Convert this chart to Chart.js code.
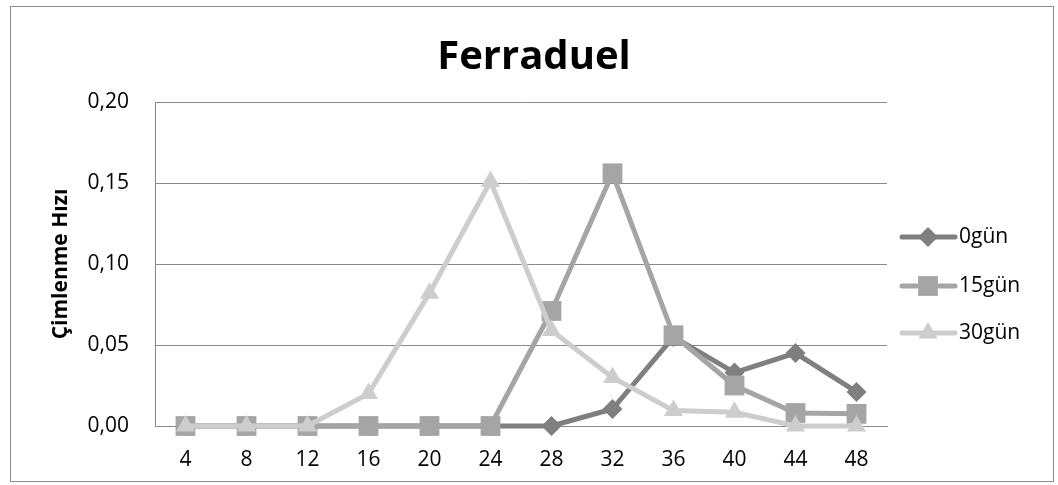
<!DOCTYPE html>
<html>
<head>
<meta charset="utf-8">
<script src="https://cdn.jsdelivr.net/npm/chart.js@4/dist/chart.umd.min.js"></script>
<style>
  html, body { margin: 0; padding: 0; background: #fff; }
  #wrap { width: 1058px; height: 485px; }
</style>
</head>
<body>
<div id="wrap"><canvas id="c" width="1058" height="485"></canvas></div>
<script>
// Germination rate (Çimlenme Hızı) of Ferraduel over hours, per storage period
const hours = ['4', '8', '12', '16', '20', '24', '28', '32', '36', '40', '44', '48'];
const gun0  = [0, 0, 0, 0, 0, 0, 0, 0.0105, 0.055, 0.033, 0.045, 0.021];
const gun15 = [0, 0, 0, 0, 0, 0, 0.071, 0.156, 0.056, 0.025, 0.008, 0.0075];
const gun30 = [0, 0, 0, 0.020, 0.082, 0.151, 0.059, 0.030, 0.0095, 0.0085, 0, 0];
const seriesNames = ['0gün', '15gün', '30gün'];

const FONT = "'Open Sans', 'DejaVu Sans', sans-serif";
const GRID = '#8a8a8a';

function series(label, data, color, style, radius, order) {
  return {
    label, data,
    borderColor: color,
    backgroundColor: color,
    borderWidth: 5,
    pointStyle: style,
    pointRadius: radius,
    pointHoverRadius: radius,
    pointBackgroundColor: color,
    pointBorderColor: color,
    pointBorderWidth: 0,
    tension: 0,
    clip: false,
    order
  };
}

// white background and outer frame
const framePlugin = {
  id: 'frame',
  beforeDraw(chart) {
    const ctx = chart.ctx;
    ctx.save();
    ctx.fillStyle = '#fff';
    ctx.fillRect(0, 0, chart.width, chart.height);
    ctx.strokeStyle = '#8c8c8c';
    ctx.lineWidth = 1;
    ctx.strokeRect(10.5, 6.5, 1043, 475);
    ctx.restore();
  }
};

// legend in the right-hand margin: line segment with the series marker, then the name
const sideLegend = {
  id: 'sideLegend',
  afterDraw(chart) {
    const ctx = chart.ctx;
    const rows = [237, 286, 333];
    ctx.save();
    chart.data.datasets.forEach((ds, i) => {
      const y = rows[i];
      ctx.strokeStyle = ds.borderColor;
      ctx.lineWidth = 5;
      ctx.lineCap = 'round';
      ctx.beginPath();
      ctx.moveTo(902, y);
      ctx.lineTo(955, y);
      ctx.stroke();
      ctx.fillStyle = ds.pointBackgroundColor;
      ctx.strokeStyle = ds.pointBorderColor;
      Chart.helpers.drawPoint(ctx, {
        pointStyle: ds.pointStyle, radius: ds.pointRadius, borderWidth: 0, rotation: 0
      }, 928, y);
      ctx.fillStyle = '#000';
      ctx.font = '21px ' + FONT;
      ctx.textAlign = 'left';
      ctx.textBaseline = 'middle';
      ctx.fillText(ds.label, 959, y);
    });
    ctx.restore();
  }
};

new Chart(document.getElementById('c'), {
  type: 'line',
  data: {
    labels: hours,
    datasets: [
      series(seriesNames[0], gun0, '#7f7f7f', 'rectRot', 10, 2),
      series(seriesNames[1], gun15, '#a5a5a5', 'rect', 14, 1),
      series(seriesNames[2], gun30, '#cdcdcd', 'triangle', 11, 0)
    ]
  },
  options: {
    responsive: false,
    animation: false,
    layout: { padding: { left: 10, right: 0, top: 0, bottom: 0 } },
    plugins: {
      legend: { display: false },
      tooltip: { enabled: false },
      title: {
        display: true,
        text: 'Ferraduel',
        color: '#000',
        font: { family: FONT, size: 40, weight: 'bold' },
        padding: { top: 34, bottom: 20 }
      }
    },
    scales: {
      x: {
        offset: true,
        grid: { display: false, drawTicks: false },
        border: { display: true, color: GRID, width: 1 },
        ticks: { color: '#000', font: { family: FONT, size: 21 }, padding: 21, maxRotation: 0 },
        afterFit(scale) { scale.height = 59; }
      },
      y: {
        min: 0,
        max: 0.2,
        grid: { color: GRID, drawTicks: false },
        border: { display: true, color: GRID, width: 1 },
        ticks: {
          stepSize: 0.05,
          color: '#000',
          font: { family: FONT, size: 21 },
          padding: 26,
          callback: v => v.toFixed(2).replace('.', ',')
        },
        title: {
          display: true,
          text: 'Çimlenme Hızı',
          color: '#000',
          font: { family: FONT, size: 21, weight: 'bold' },
          padding: { top: 38, bottom: 0 }
        },
        afterFit(scale) { scale.width = 145; }
      },
      // empty right-hand margin that holds the legend
      side: {
        position: 'right',
        min: 0,
        max: 0.2,
        grid: { display: false, drawTicks: false },
        border: { display: false },
        ticks: { display: false },
        afterFit(scale) { scale.width = 171; }
      }
    }
  },
  plugins: [framePlugin, sideLegend]
});
</script>
</body>
</html>
